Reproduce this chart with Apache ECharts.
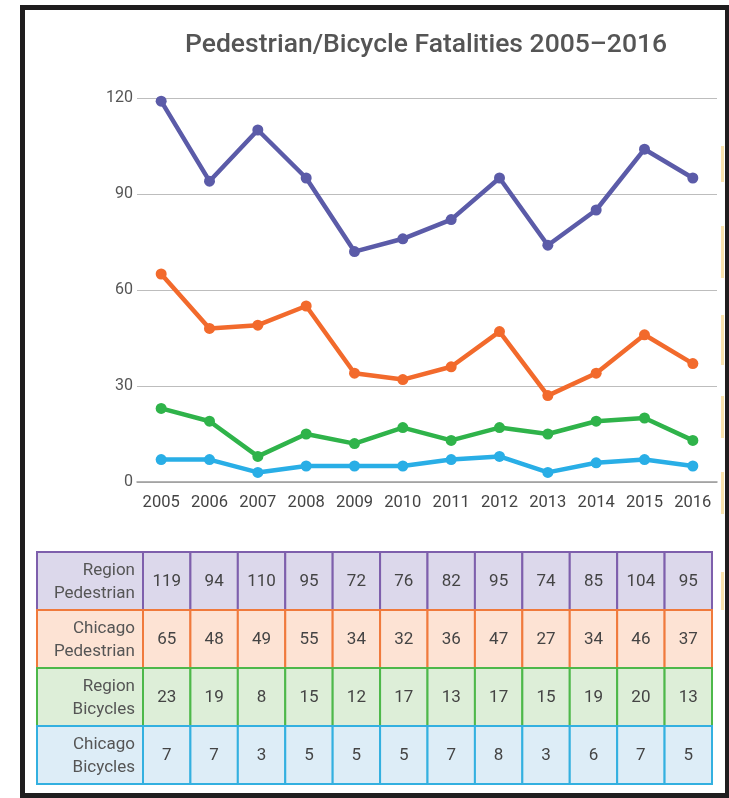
<!DOCTYPE html>
<html><head><meta charset="utf-8">
<script src="https://cdn.jsdelivr.net/npm/echarts@6/dist/echarts.min.js"></script>
<style>html,body{margin:0;padding:0;background:#fff}#c{width:729px;height:798px}</style>
</head><body><div id="c"></div>
<script>
const titleText = 'Pedestrian/Bicycle Fatalities 2005\u20132016';
const years = ['2005','2006','2007','2008','2009','2010','2011','2012','2013','2014','2015','2016'];
const rowLabels = ['Region\nPedestrian','Chicago\nPedestrian','Region\nBicycles','Chicago\nBicycles'];
const regionPedestrian = [119,94,110,95,72,76,82,95,74,85,104,95];
const chicagoPedestrian = [65,48,49,55,34,32,36,47,27,34,46,37];
const regionBicycles = [23,19,8,15,12,17,13,17,15,19,20,13];
const chicagoBicycles = [7,7,3,5,5,5,7,8,3,6,7,5];
const yMin = 0, yMax = 120, yInterval = 30;

const lineColors = ['#5b5ba8','#f26a2c','#2fb34a','#29aee6'];
const fillColors = ['#dcd8eb','#fde3d4','#ddeed8','#ddedf7'];
const borderColors = ['#7e5fac','#f07a3c','#4db84a','#33b0e0'];
const FONT = 'Roboto, "Liberation Sans", sans-serif';

const allSeries = [regionPedestrian, chicagoPedestrian, regionBicycles, chicagoBicycles];
const tableData = [];
allSeries.forEach((arr, r) => arr.forEach((v, c) => tableData.push([c, r, v])));
const labelData = rowLabels.map((t, r) => [0, r]);

const chart = echarts.init(document.getElementById('c'), null, {renderer: 'canvas'});

function cellRect(api, r) {
  const c = api.coord([api.value(0), api.value(1)]);
  const s = api.size([1, 1]);
  return {c, s, rect: {type: 'rect', shape: {x: c[0] - s[0] / 2, y: c[1] - s[1] / 2, width: s[0], height: s[1]},
    style: {fill: fillColors[r], stroke: borderColors[r], lineWidth: 2}}};
}

chart.setOption({
  animation: false,
  backgroundColor: '#fff',
  title: {
    text: titleText, left: 180, top: 27,
    textStyle: {fontFamily: FONT, fontSize: 26.5, fontWeight: 500, color: '#555'}
  },
  graphic: [
    {type: 'rect', z: 100, shape: {x: 22.5, y: 7.5, width: 705, height: 788}, style: {fill: 'none', stroke: '#1f1d1e', lineWidth: 5}},
    {type: 'rect', z: 99, shape: {x: 721, y: 146, width: 3, height: 36}, style: {fill: '#fae3ad'}},
    {type: 'rect', z: 99, shape: {x: 721, y: 226, width: 3, height: 52}, style: {fill: '#fae3ad'}},
    {type: 'rect', z: 99, shape: {x: 721, y: 315, width: 3, height: 50}, style: {fill: '#fae3ad'}},
    {type: 'rect', z: 99, shape: {x: 721, y: 396, width: 3, height: 42}, style: {fill: '#fae3ad'}},
    {type: 'rect', z: 99, shape: {x: 721, y: 472, width: 3, height: 42}, style: {fill: '#fae3ad'}},
    {type: 'rect', z: 99, shape: {x: 721, y: 572, width: 3, height: 38}, style: {fill: '#fae3ad'}}
  ],
  grid: [
    {left: 137, top: 98, width: 580, height: 384},
    {left: 143, top: 552, width: 569, height: 232},
    {left: 37, top: 552, width: 106, height: 232}
  ],
  xAxis: [
    {type: 'category', gridIndex: 0, data: years, boundaryGap: true,
      axisLine: {lineStyle: {color: '#9a9a9a', width: 1.5}},
      axisTick: {alignWithLabel: true, inside: true, length: 6, lineStyle: {color: '#9a9a9a'}},
      axisLabel: {color: '#444', fontFamily: FONT, fontSize: 16.5, margin: 12}},
    {type: 'category', gridIndex: 1, data: years, show: false},
    {type: 'category', gridIndex: 2, data: ['label'], show: false}
  ],
  yAxis: [
    {type: 'value', gridIndex: 0, min: yMin, max: yMax, interval: yInterval,
      axisLine: {show: false}, axisTick: {show: false},
      splitLine: {lineStyle: {color: '#bdbdbd', width: 1.2}},
      axisLabel: {color: '#555', fontFamily: FONT, fontSize: 16, margin: 4}},
    {type: 'category', gridIndex: 1, data: [0, 1, 2, 3], inverse: true, show: false},
    {type: 'category', gridIndex: 2, data: [0, 1, 2, 3], inverse: true, show: false}
  ],
  series: [
    ...allSeries.map((arr, i) => ({
      type: 'line', name: rowLabels[i].replace('\n', ' '), xAxisIndex: 0, yAxisIndex: 0,
      data: arr, symbol: 'circle', symbolSize: 11,
      lineStyle: {color: lineColors[i], width: 4.5},
      itemStyle: {color: lineColors[i]}
    })),
    {
      type: 'custom', xAxisIndex: 1, yAxisIndex: 1, data: tableData,
      renderItem(params, api) {
        const r = api.value(1);
        const o = cellRect(api, r);
        return {type: 'group', children: [o.rect,
          {type: 'text', style: {text: String(api.value(2)), x: o.c[0], y: o.c[1] + 1, align: 'center', verticalAlign: 'middle',
            fill: '#444', font: '17px ' + FONT}}]};
      }
    },
    {
      type: 'custom', xAxisIndex: 2, yAxisIndex: 2, data: labelData,
      renderItem(params, api) {
        const r = api.value(1);
        const o = cellRect(api, r);
        return {type: 'group', children: [o.rect,
          {type: 'text', style: {text: rowLabels[r], x: o.c[0] + o.s[0] / 2 - 8, y: o.c[1] + 1, align: 'right', verticalAlign: 'middle',
            fill: '#555', font: '17px ' + FONT, lineHeight: 23}}]};
      }
    }
  ]
});
</script>
</body></html>
